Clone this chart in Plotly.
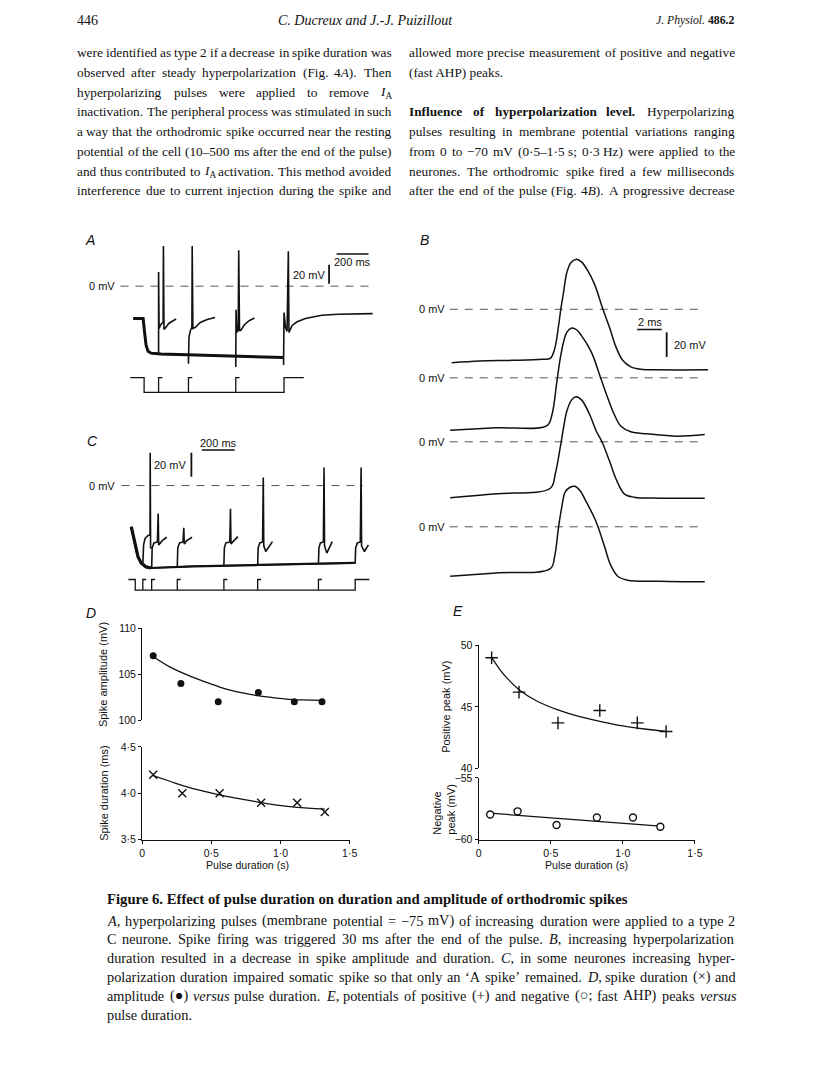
import re
import plotly.graph_objects as go

# Page is 816x1088.  The browser adds an 8px body margin; the figure is kept a bit smaller
# than the page so that nothing overflows, and all positions below are page pixels.
PAGE_W, PAGE_H, M = 816, 1088, 8
W, H = 784, 1056
def fx(p): return (p - M) / W
def fy(p): return 1 - (p - M) / H

SERIF = "Liberation Serif"
SANS = "Liberation Sans"
INK = "#111111"

# ---------------- DATA ----------------
# Panel A  (time in ms from pulse onset, membrane potential in mV)
A_main_t = [-67.9, -6.2, 3.1, 12.3, 24.7, 43.2, 104.9, 351.7, 598.5, 873, 873, 876, 885, 895, 903, 907, 927, 958, 1010, 1112, 1215, 1431]
A_main_v = [-34.4, -34.4, -49.2, -62.9, -69.2, -71.3, -72.3, -73.4, -74.4, -76.0, -83.9, -28.1, -43.9, -48.1, 37.2, -49.2, -41.8, -37.9, -34.4, -31.0, -29.9, -29.2]
A_ev1_t = [90.7, 90.7, 93.8, 104.9, 119.1, 120.9, 124.6, 135.7, 154.3, 178.9, 200.5]
A_ev1_v = [-71.3, 15.1, -45.0, -40.8, -38.6, 42.8, -46.0, -43.9, -39.7, -37.1, -35.0]
A_ev2_t = [277.7, 277.7, 280.7, 290, 299.2, 301.1, 305.4, 320.8, 351.7, 394.9, 444.2]
A_ev2_v = [-73.4, -82.6, -54.4, -47.1, -43.9, 42.8, -45.0, -43.9, -38.6, -35.5, -33.4]
A_ev3_t = [573.8, 573.8, 575.7, 580, 589.2, 592.3, 597.3, 604.7, 629.3, 660.2, 691]
A_ev3_v = [-74.4, -86.0, -25.0, -49.2, -47.1, 38.2, -47.1, -47.1, -40.8, -36.5, -33.9]
A_pulse_start, A_pulse_ends, A_cmd_span = 0, [90.7, 277.7, 573.8, 876], [-86.4, 999.5]

# Panel B  (time in ms, potential in mV relative to each trace's 0 mV line)
B1_t = [0.16, 2.43, 5.09, 7.49, 8.16, 8.51, 8.83, 9.01, 9.23, 9.49, 9.84, 10.29, 10.69, 11.23, 11.76, 12.43, 12.96, 13.49, 14.03, 14.69, 15.49, 17.09, 20.96]
B1_v = [-43.2, -41.8, -41.3, -40.5, -39.7, -32.0, -13.3, 0, 13.4, 29.4, 37.9, 40.6, 38.4, 30.7, 20.0, 0, -14.6, -30.6, -41.3, -46.6, -48.5, -49.0, -49.0]
B2_t = [0.03, 3.76, 7.89, 8.29, 8.69, 8.96, 9.23, 9.49, 9.89, 10.29, 10.69, 11.49, 12.24, 12.83, 13.36, 13.89, 14.69, 16.03, 18.43, 20.69]
B2_v = [-42.4, -40.5, -38.7, -29.9, -3.2, 15.5, 28.8, 36.8, 40.3, 38.9, 34.1, 20.8, 0, -16.5, -29.9, -39.2, -43.7, -45.3, -47.2, -45.9]
B3_t = [0.03, 3.76, 8.16, 8.56, 8.96, 9.23, 9.49, 9.89, 10.24, 10.69, 11.36, 11.89, 12.35, 12.96, 13.49, 14.16, 14.96, 17.09, 20.69]
B3_v = [-45.3, -42.1, -37.6, -26.1, -4.8, 11.2, 24.5, 33.9, 36.5, 33.9, 21.9, 8.5, 0, -15.5, -30.1, -42.1, -44.8, -45.6, -45.6]
B4_t = [0.03, 3.76, 8.16, 8.51, 8.83, 9.09, 9.36, 9.76, 10.16, 10.56, 11.09, 11.76, 12.03, 12.56, 13.04, 13.63, 14.43, 17.09, 20.69]
B4_v = [-40.0, -37.3, -33.9, -24.0, 0, 16.0, 28.0, 32.0, 32.8, 29.3, 20.0, 6.7, 0, -16.0, -30.7, -40.0, -43.2, -44.0, -44.5]
B_traces = [(B1_t, B1_v), (B2_t, B2_v), (B3_t, B3_v), (B4_t, B4_v)]

# Panel C
C_main_t = [-24, -4.2, 16.2, 36, 66, 96, 355.8, 756, 1336.2]
C_main_v = [-34.3, -45.3, -59.0, -64.4, -67.7, -68.6, -67.2, -66.1, -64.4]
C_events = [
    ([46.2, 51, 60, 78, 90, 91.2, 93.6, 102], [-65.8, -49.4, -44.0, -41.6, -41.2, 27.4, -51.8, -51.8]),
    ([100.2, 103.2, 114, 135, 139.8, 142.8, 153, 168, 192], [-68.3, -51.8, -47.7, -46.9, -23.3, -49.4, -47.7, -45.3, -43.0]),
    ([256.2, 259.2, 270, 291, 295.8, 298.8, 312, 346.2], [-67.5, -51.8, -47.7, -46.9, -35.1, -48.6, -46.1, -43.0]),
    ([540, 543, 552, 576, 580.2, 583.2, 594, 625.8], [-66.7, -51.8, -47.7, -46.9, -19.2, -48.6, -46.9, -42.5]),
    ([745.8, 748.8, 759, 775.8, 780, 783, 795, 835.8], [-66.3, -51.8, -47.7, -46.9, 6.8, -50.2, -54.9, -46.7]),
    ([1116, 1119, 1128, 1146, 1150.2, 1153.2, 1167, 1200], [-65.0, -51.8, -47.7, -46.9, 15.1, -50.2, -56.2, -46.7]),
    ([1339.8, 1342.8, 1353, 1371, 1375.8, 1378.8, 1396.2, 1420.2], [-64.4, -51.8, -47.7, -46.9, 15.1, -50.2, -54.9, -49.4]),
]
C_pulse_ends, C_cmd_span = [46.2, 100.2, 256.2, 540, 745.8, 1116, 1339.8], [-42, 1426.2]

# Panel D
D_amp_x = [0.08, 0.28, 0.55, 0.84, 1.10, 1.30]
D_amp_y = [107, 104, 102, 103, 102, 102]
D_amp_fit_x = [0.08, 0.20, 0.33, 0.45, 0.56, 0.68, 0.80, 0.92, 1.04, 1.16, 1.30]
D_amp_fit_y = [106.9, 105.8, 104.9, 104.2, 103.6, 103.1, 102.75, 102.5, 102.3, 102.2, 102.15]
D_dur_x = [0.08, 0.29, 0.56, 0.86, 1.12, 1.32]
D_dur_y = [4.2, 4.0, 4.0, 3.9, 3.9, 3.8]
D_dur_fit_x = [0.08, 0.20, 0.30, 0.45, 0.60, 0.75, 0.90, 1.05, 1.20, 1.32]
D_dur_fit_y = [4.19, 4.13, 4.08, 4.02, 3.97, 3.93, 3.89, 3.86, 3.84, 3.83]

# Panel E
E_pos_x = [0.09, 0.28, 0.55, 0.84, 1.10, 1.30]
E_pos_y = [49.0, 46.2, 43.7, 44.7, 43.7, 43.0]
E_pos_fit_x = [0.09, 0.15, 0.20, 0.28, 0.40, 0.55, 0.70, 0.85, 1.00, 1.15, 1.30]
E_pos_fit_y = [49.0, 48.0, 47.3, 46.4, 45.5, 44.75, 44.2, 43.8, 43.45, 43.2, 43.0]
E_neg_x = [0.08, 0.27, 0.54, 0.82, 1.07, 1.26]
E_neg_y = [-57.95, -57.7, -58.8, -58.2, -58.2, -58.95]
E_neg_fit_x = [0.08, 1.26]
E_neg_fit_y = [-57.85, -58.9]

pulse_ticks = [0, 0.5, 1.0, 1.5]
pulse_ticktext = ["0", "0·5", "1·0", "1·5"]

# ---------------- FIGURE ----------------
fig = go.Figure()
layout = {}

def panel_axes(xn, yn, box, origin, scale):
    l, r, t, b = box
    x0, y0 = origin
    kx, ky = scale
    layout["xaxis" + xn] = dict(domain=[fx(l), fx(r)], range=[(l - x0) * kx, (r - x0) * kx],
                                visible=False, anchor="y" + yn, fixedrange=True)
    layout["yaxis" + yn] = dict(domain=[fy(b), fy(t)], range=[(y0 - b) * ky, (y0 - t) * ky],
                                visible=False, anchor="x" + xn, fixedrange=True)

def seg(ax, ay, xs, ys, width=1.5, color=INK, dash=None, shape="linear"):
    fig.add_trace(go.Scatter(x=xs, y=ys, mode="lines", xaxis="x" + ax, yaxis="y" + ay,
                             line=dict(color=color, width=width, dash=dash, shape=shape),
                             hoverinfo="skip", showlegend=False))

def join(parts):
    xs, ys = [], []
    for px, py in parts:
        xs += list(px) + [None]
        ys += list(py) + [None]
    return xs, ys

DASH = "8px,7px"

# ---- Panel A ----
A_KX, A_KY = 200 / 32.4, 20 / 19.0
panel_axes("", "", (100, 385, 230, 400), (143, 283.3), (A_KX, A_KY))
seg("", "", [-148, 1431], [0, 0], width=1, color="#555", dash=DASH)
seg("", "", A_main_t[:10], A_main_v[:10], width=3)
xs, ys = join([(A_main_t, A_main_v), (A_ev1_t, A_ev1_v), (A_ev2_t, A_ev2_v), (A_ev3_t, A_ev3_v)])
seg("", "", xs, ys, width=1.6)
A_HI, A_LO = -97.3, -113.1
cmd = [([A_cmd_span[0], A_pulse_start, A_pulse_start, A_pulse_ends[-1], A_pulse_ends[-1], A_cmd_span[1]],
        [A_HI, A_HI, A_LO, A_LO, A_HI, A_HI])]
for e in A_pulse_ends[:-1]:
    cmd.append(([e, e, e + 24], [A_LO, A_HI, A_HI]))
xs, ys = join(cmd)
seg("", "", xs, ys, width=1.3)
seg("", "", [1205, 1405], [34.3, 34.3], width=1.5)      # 200 ms bar
seg("", "", [1158, 1158], [2.7, 22.7], width=1.8)       # 20 mV bar

# ---- Panel B ----
B_KX, B_KY = 0.08, 0.8
B_zero_px = [306.7, 376, 440.7, 526.7]
for i, (bt, bv) in enumerate(B_traces):
    yn = str(2 + i)
    panel_axes("2", yn, (425, 720, 240, 600), (453, B_zero_px[i]), (B_KX, B_KY))
    seg("2", yn, [0, 20.4], [0, 0], width=1, color="#555", dash=DASH)
    seg("2", yn, bt, bv, width=1.5, shape="spline")
layout["xaxis2"]["anchor"] = "y2"
seg("2", "2", [15.2, 17.2], [-16.3, -16.3], width=1.5)   # 2 ms bar
seg("2", "2", [17.6, 17.6], [-18.6, -38.6], width=1.8)   # 20 mV bar

# ---- Panel C ----
C_KX, C_KY = 200 / 33.3, 20 / 24.3
panel_axes("3", "6", (95, 380, 430, 600), (134, 485), (C_KX, C_KY))
seg("3", "6", [-84, 1386], [0, 0], width=1, color="#555", dash=DASH)
seg("3", "6", C_main_t[:6], C_main_v[:6], width=3.2)
xs, ys = join([(C_main_t + C_events[-1][0], C_main_v + C_events[-1][1])] + C_events[:-1])
seg("3", "6", xs, ys, width=1.6)
seg("3", "6", C_main_t, C_main_v, width=2.2)
C_HI, C_LO = -78.2, -87.0
cmd = [([C_cmd_span[0], 0, 0, C_pulse_ends[-1], C_pulse_ends[-1], C_cmd_span[1]],
        [C_HI, C_HI, C_LO, C_LO, C_HI, C_HI])]
for e in C_pulse_ends[:-1]:
    cmd.append(([e, e, e + 21], [C_LO, C_HI, C_HI]))
xs, ys = join(cmd)
seg("3", "6", xs, ys, width=1.3)
seg("3", "6", [406, 606], [29.6, 29.6], width=1.5)       # 200 ms bar
seg("3", "6", [342, 342], [7.4, 27.4], width=1.8)        # 20 mV bar

# ---- Panels D and E (real axes) ----
tickfont = dict(family=SANS, size=10.5, color=INK)
def real_axis(**kw):
    d = dict(showline=True, linecolor=INK, linewidth=1.2, ticks="outside", ticklen=3,
             tickcolor=INK, tickwidth=1.2, showgrid=False, zeroline=False, tickfont=tickfont,
             fixedrange=True)
    d.update(kw)
    return d

layout["xaxis4"] = real_axis(domain=[fx(141), fx(351.5)], range=[0, 1.5], tickvals=pulse_ticks,
                             ticktext=pulse_ticktext, anchor="y8")
layout["yaxis7"] = real_axis(domain=[fy(722.3), fy(629.3)], range=[100, 110], tickvals=[100, 105, 110],
                             anchor="x4")
layout["yaxis8"] = real_axis(domain=[fy(843.3), fy(749.3)], range=[3.5, 4.5], tickvals=[3.5, 4.0, 4.5],
                             ticktext=["3·5", "4·0", "4·5"], anchor="x4")
layout["xaxis5"] = real_axis(domain=[fx(482.3), fx(701.7)], range=[0, 1.5], tickvals=pulse_ticks,
                             ticktext=pulse_ticktext, anchor="y10")
layout["yaxis9"] = real_axis(domain=[fy(771), fy(646.7)], range=[40, 50], tickvals=[40, 45, 50],
                             anchor="x5")
layout["yaxis10"] = real_axis(domain=[fy(843.3), fy(780.7)], range=[-60, -55], tickvals=[-60, -55],
                              ticktext=["−60", "−55"], anchor="x5")

def pts(ax, ay, xs, ys, symbol, size, lw=1.3, fill=INK):
    fig.add_trace(go.Scatter(x=xs, y=ys, mode="markers", xaxis="x" + ax, yaxis="y" + ay,
                             marker=dict(symbol=symbol, size=size, color=fill,
                                         line=dict(color=INK, width=lw)),
                             hoverinfo="skip", showlegend=False))

seg("4", "7", D_amp_fit_x, D_amp_fit_y, width=1.3, shape="spline")
pts("4", "7", D_amp_x, D_amp_y, "circle", 7, lw=0)
seg("4", "8", D_dur_fit_x, D_dur_fit_y, width=1.3, shape="spline")
pts("4", "8", D_dur_x, D_dur_y, "x-thin", 8, lw=1.4)
seg("5", "9", E_pos_fit_x, E_pos_fit_y, width=1.3, shape="spline")
pts("5", "9", E_pos_x, E_pos_y, "cross-thin", 9, lw=1.4)
seg("5", "10", E_neg_fit_x, E_neg_fit_y, width=1.3)
pts("5", "10", E_neg_x, E_neg_y, "circle", 7, lw=1.4, fill="white")

# ---------------- TEXT ----------------
ann = []
def txt(s, x, y, size=13, family=SERIF, xanchor="left", yanchor="middle", angle=0, color=INK):
    ann.append(dict(text=s, x=fx(x), y=fy(y), xref="paper", yref="paper", showarrow=False,
                    xanchor=xanchor, yanchor=yanchor, textangle=angle, borderpad=0,
                    font=dict(family=family, size=size, color=color), align="left"))

# Times-metric advance widths (per 1000 em) used to justify the serif text lines
_TW = dict(zip("abcdefghijklmnopqrstuvwxyz",
               [444, 500, 444, 500, 444, 333, 500, 500, 278, 278, 500, 278, 778, 500, 500, 500, 500, 333, 389, 278, 500, 500, 722, 500, 500, 444]))
_TW.update(zip("ABCDEFGHIJKLMNOPQRSTUVWXYZ",
               [722, 667, 667, 722, 611, 556, 722, 722, 333, 389, 722, 611, 889, 722, 722, 556, 722, 667, 556, 611, 722, 722, 944, 722, 722, 611]))
_TW.update({c: 500 for c in "0123456789"})
_TW.update({".": 250, ",": 250, ";": 278, ":": 278, "(": 333, ")": 333, "-": 333, "–": 500, "−": 564,
            "=": 564, "+": 564, "×": 564, "·": 250, "‘": 333, "’": 333, "●": 600, "○": 600, " ": 250})
RENDER_SLACK = 1.03   # on-screen glyph advances come out slightly wider than the nominal metrics

def parse_words(line):
    """split an HTML-ish line into words; each word = list of (text, bold, italic, sub)"""
    words, cur = [], []
    state = {"b": False, "i": False, "sub": False}
    for tok in re.split(r"(<[^>]+>)", line):
        if not tok:
            continue
        if tok.startswith("<"):
            name = tok.strip("<>/").lower()
            state[name] = not tok.startswith("</")
            continue
        parts = tok.split(" ")
        for k, p in enumerate(parts):
            if k > 0 and cur:
                words.append(cur)
                cur = []
            if p:
                cur.append((p, state["b"], state["i"], state["sub"]))
    if cur:
        words.append(cur)
    return words

def word_html(word):
    out = ""
    for t, b, i, s in word:
        h = t
        if s: h = "<sub>" + h + "</sub>"
        if i: h = "<i>" + h + "</i>"
        if b: h = "<b>" + h + "</b>"
        out += h
    return out

def word_width(word, size):
    w = 0
    for t, b, i, s in word:
        f = (1.07 if b else 1.0) * (0.97 if i else 1.0) * (0.7 if s else 1.0)
        w += sum(_TW.get(c, 500) for c in t) * f
    return w * size / 1000 * RENDER_SLACK

def justified(line, x0, x1, y, size, justify=True):
    words = parse_words(line)
    widths = [word_width(w, size) for w in words]
    if not justify or len(words) < 2:
        txt(line, x0, y, size=size)
        return
    gap = (x1 - x0 - sum(widths)) / (len(words) - 1)
    x = x0
    for w, wd in zip(words, widths):
        txt(word_html(w), x, y, size=size)
        x += wd + gap

# header
txt("446", 74, 15, size=14)
txt("<i>C. Ducreux and J.-J. Puizillout</i>", 368, 15, size=14, xanchor="center")
txt("<i>J. Physiol.</i> <b>486.2</b>", 742, 15, size=11.7, xanchor="right")

left_lines = [
    "were identified as type 2 if a decrease in spike duration was",
    "observed after steady hyperpolarization (Fig. 4<i>A</i>). Then",
    "hyperpolarizing pulses were applied to remove <i>I</i><sub>A</sub>",
    "inactivation. The peripheral process was stimulated in such",
    "a way that the orthodromic spike occurred near the resting",
    "potential of the cell (10–500 ms after the end of the pulse)",
    "and thus contributed to <i>I</i><sub>A</sub> activation. This method avoided",
    "interference due to current injection during the spike and",
]
right_lines = [
    "allowed more precise measurement of positive and negative",
    "(fast AHP) peaks.",
    "",
    "<b>Influence of hyperpolarization level.</b> Hyperpolarizing",
    "pulses resulting in membrane potential variations ranging",
    "from 0 to −70 mV (0·5–1·5 s; 0·3 Hz) were applied to the",
    "neurones. The orthodromic spike fired a few milliseconds",
    "after the end of the pulse (Fig. 4<i>B</i>). A progressive decrease",
]
BODY = 13.3
for i, s in enumerate(left_lines):
    justified(s, 74, 393, 47 + 20 * i, BODY)
for i, s in enumerate(right_lines):
    if s:
        justified(s, 411, 742, 47 + 20 * i, BODY, justify=(i != 1))

# panel letters
for letter, x, y in [("A", 88, 237), ("B", 427, 237), ("C", 91, 440), ("D", 89, 614), ("E", 461, 612)]:
    txt("<i>" + letter + "</i>", x, y, size=14, family=SANS, xanchor="center")

# trace annotations
txt("0 mV", 114, 283.3, size=11, family=SANS, xanchor="right")
txt("0 mV", 114, 485, size=11, family=SANS, xanchor="right")
for yz in B_zero_px:
    txt("0 mV", 449, yz, size=11, family=SANS, xanchor="right")
txt("200 ms", 354.5, 259, size=11, family=SANS, xanchor="center")
txt("20 mV", 327, 272, size=11, family=SANS, xanchor="right")
txt("200 ms", 218.5, 442, size=11, family=SANS, xanchor="center")
txt("20 mV", 187, 464, size=11, family=SANS, xanchor="right")
txt("2 ms", 655.8, 320, size=11, family=SANS, xanchor="center")
txt("20 mV", 679, 343, size=11, family=SANS, xanchor="left")

# axis titles for D and E
txt("Spike amplitude (mV)", 102, 676, size=11, family=SANS, xanchor="center", angle=-90)
txt("Spike duration (ms)", 102, 796, size=11, family=SANS, xanchor="center", angle=-90)
txt("Positive peak (mV)", 449, 709, size=11, family=SANS, xanchor="center", angle=-90)
txt("Negative<br>peak (mV)", 447, 812, size=11, family=SANS, xanchor="center", angle=-90)
txt("Pulse duration (s)", 248, 869, size=10.6, family=SANS, xanchor="center")
txt("Pulse duration (s)", 592, 869, size=10.6, family=SANS, xanchor="center")

# caption
txt("<b>Figure 6. Effect of pulse duration on duration and amplitude of orthodromic spikes</b>", 104, 903, size=14.7)
cap = [
    "<i>A</i>, hyperpolarizing pulses (membrane potential = −75 mV) of increasing duration were applied to a type 2",
    "C neurone. Spike firing was triggered 30 ms after the end of the pulse. <i>B</i>, increasing hyperpolarization",
    "duration resulted in a decrease in spike amplitude and duration. <i>C</i>, in some neurones increasing hyper-",
    "polarization duration impaired somatic spike so that only an ‘A spike’ remained. <i>D</i>, spike duration (×) and",
    "amplitude (●) <i>versus</i> pulse duration. <i>E</i>, potentials of positive (+) and negative (○; fast AHP) peaks <i>versus</i>",
    "pulse duration.",
]
for i, s in enumerate(cap):
    justified(s, 104, 742, 925 + 19 * i, 14.3, justify=(i < len(cap) - 1))

layout.update(dict(width=W, height=H, margin=dict(l=0, r=0, t=0, b=0),
                   paper_bgcolor="white", plot_bgcolor="rgba(0,0,0,0)", showlegend=False,
                   annotations=ann))
fig.update_layout(**layout)
fig.write_html("out.html")
